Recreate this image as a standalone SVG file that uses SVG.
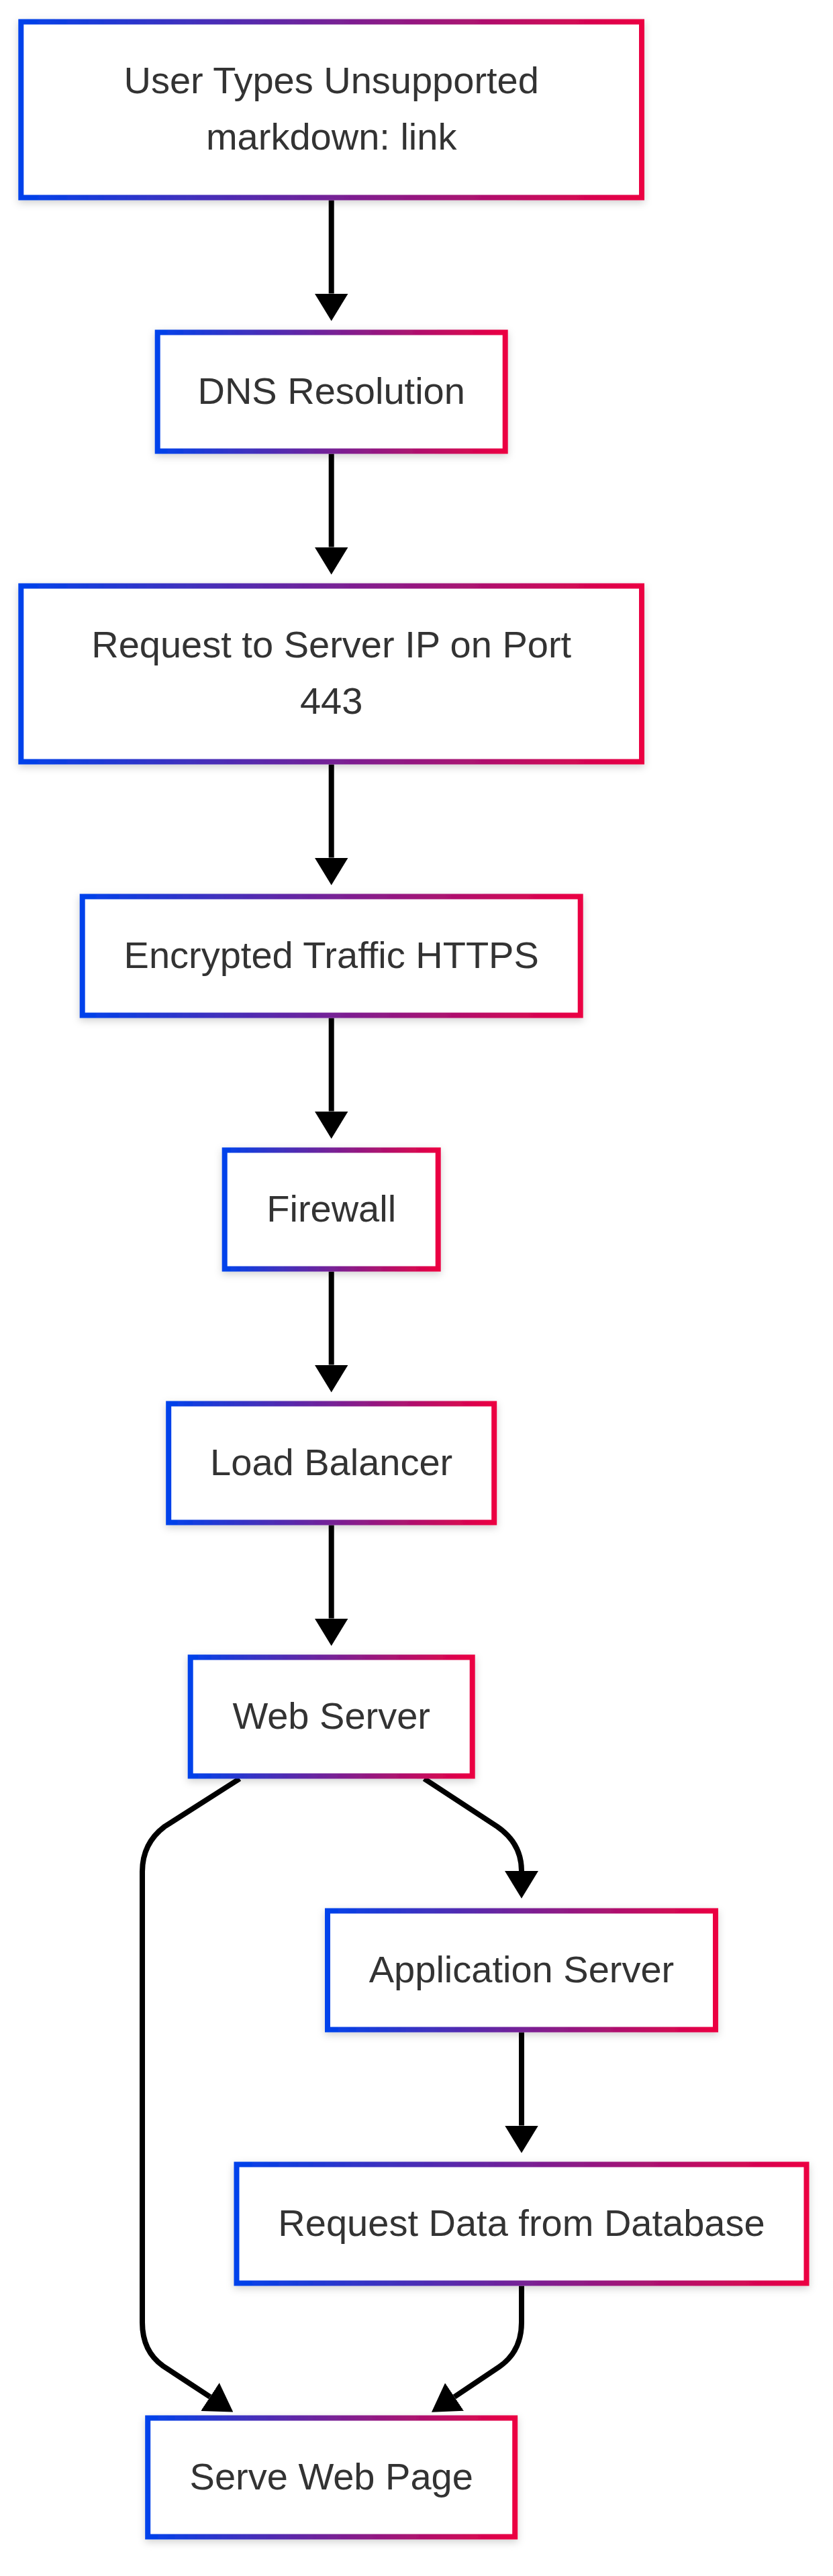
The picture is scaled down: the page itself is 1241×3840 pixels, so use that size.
<svg xmlns="http://www.w3.org/2000/svg" width="1241" height="3840" viewBox="0 0 1241 3840">
  <style>
    .box { fill: #ffffff; stroke: url(#grad); stroke-width: 8; filter: url(#shadow); }
    .lbl { font-family: "Liberation Sans", Arial, sans-serif; font-size: 56px; fill: #333333; text-anchor: middle; }
    .edge { fill: none; stroke: #000000; stroke-width: 8; marker-end: url(#arrow); }
  </style>
  <defs>
    <linearGradient id="grad" x1="0" y1="0" x2="1" y2="0">
      <stop offset="0" stop-color="#0042eb"/>
      <stop offset="1" stop-color="#eb0042"/>
    </linearGradient>
    <filter id="shadow" x="-10%" y="-10%" width="120%" height="140%">
      <feDropShadow dx="0" dy="4" stdDeviation="6" flood-color="#000000" flood-opacity="0.18"/>
    </filter>
    <marker id="arrow" markerUnits="userSpaceOnUse" viewBox="0 0 41 50" markerWidth="41" markerHeight="50" refX="0" refY="25" orient="auto">
      <path d="M0,0 L41,25 L0,50 z" fill="#000000"/>
    </marker>
  </defs>
  <rect width="1241" height="3840" fill="#ffffff"/>

  <g id="connectors">
    <path class="edge" d="M493.7,298.5 L493.7,437.5"/>
    <path class="edge" d="M493.7,676.5 L493.7,815.5"/>
    <path class="edge" d="M493.7,1139.5 L493.7,1278.5"/>
    <path class="edge" d="M493.7,1517.5 L493.7,1656.5"/>
    <path class="edge" d="M493.7,1895.5 L493.7,2034.5"/>
    <path class="edge" d="M493.7,2273.5 L493.7,2412.5"/>
    <path class="edge" d="M632,2651.5 L741,2723 Q777,2748 777,2789"/>
    <path class="edge" d="M357,2651.5 L245,2723 Q212,2748 212,2790 L212,3462 Q212,3505 243,3527 L313,3573"/>
    <path class="edge" d="M777,3029.5 L777,3168.5"/>
    <path class="edge" d="M777,3407.5 L777,3462 Q777,3505 744,3528 L677,3573"/>
  </g>

  <g id="node-user">
    <rect class="box" x="31.3" y="32.5" width="924.7" height="262"/>
    <text class="lbl" x="493.7" y="138.5">User Types Unsupported</text>
    <text class="lbl" x="493.7" y="222.5">markdown: link</text>
  </g>
  <g id="node-dns">
    <rect class="box" x="234.7" y="495.5" width="518" height="177"/>
    <text class="lbl" x="493.7" y="602">DNS Resolution</text>
  </g>
  <g id="node-request">
    <rect class="box" x="31.3" y="873.5" width="924.7" height="262"/>
    <text class="lbl" x="493.7" y="979.5">Request to Server IP on Port</text>
    <text class="lbl" x="493.7" y="1063.5">443</text>
  </g>
  <g id="node-https">
    <rect class="box" x="122.7" y="1336.5" width="742" height="177"/>
    <text class="lbl" x="493.7" y="1443">Encrypted Traffic HTTPS</text>
  </g>
  <g id="node-firewall">
    <rect class="box" x="334.7" y="1714.5" width="318" height="177"/>
    <text class="lbl" x="493.7" y="1821">Firewall</text>
  </g>
  <g id="node-lb">
    <rect class="box" x="251.2" y="2092.5" width="485" height="177"/>
    <text class="lbl" x="493.7" y="2199">Load Balancer</text>
  </g>
  <g id="node-web">
    <rect class="box" x="283.7" y="2470.5" width="420" height="177"/>
    <text class="lbl" x="493.7" y="2577">Web Server</text>
  </g>
  <g id="node-app">
    <rect class="box" x="488" y="2848.5" width="578" height="177"/>
    <text class="lbl" x="777" y="2955">Application Server</text>
  </g>
  <g id="node-db">
    <rect class="box" x="352.5" y="3226.5" width="849" height="177"/>
    <text class="lbl" x="777" y="3333">Request Data from Database</text>
  </g>
  <g id="node-serve">
    <rect class="box" x="220.2" y="3604.5" width="547" height="177"/>
    <text class="lbl" x="493.7" y="3711">Serve Web Page</text>
  </g>
</svg>
